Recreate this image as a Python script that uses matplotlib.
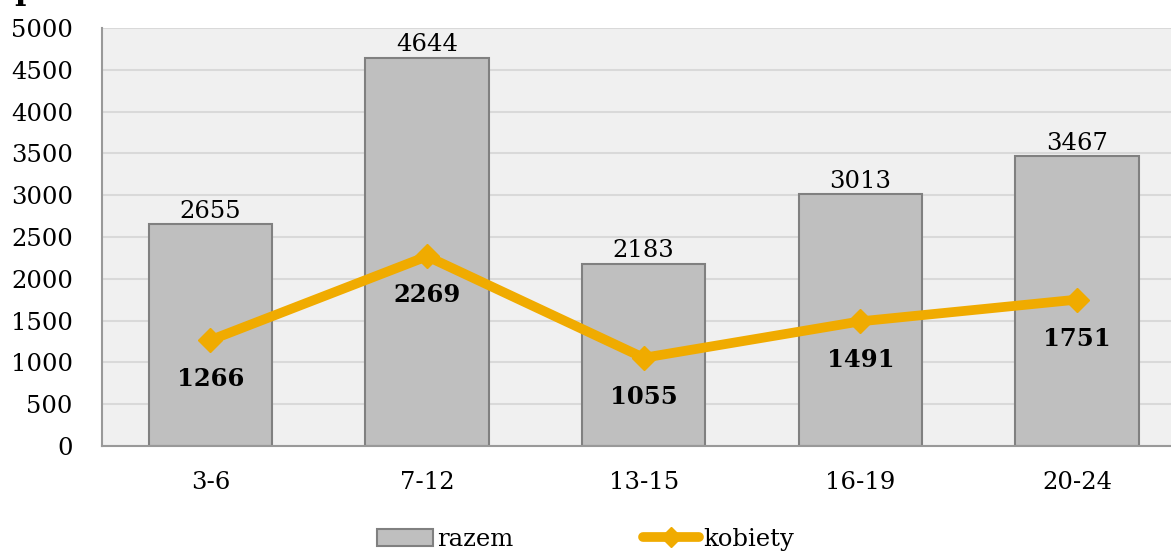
import matplotlib
matplotlib.use("Agg")
import matplotlib.pyplot as plt
from matplotlib.lines import Line2D
from matplotlib.patches import Patch

categories = ["3-6", "7-12", "13-15", "16-19", "20-24"]
razem = [2655, 4644, 2183, 3013, 3467]
kobiety = [1266, 2269, 1055, 1491, 1751]
yticks = list(range(0, 5001, 500))

plt.rcParams['font.family'] = ['DejaVu Serif']
FS = 17.5

fig = plt.figure(figsize=(11.71, 5.52), dpi=100)
ax = fig.add_axes([102/1171, 1-446/552, 1-102/1171, (446-28)/552])
ax.set_facecolor('#f0f0f0')

x = list(range(len(categories)))
ax.bar(x, razem, width=0.57, color='#bfbfbf', edgecolor='#808080', linewidth=1.5, zorder=2)
ax.plot(x, kobiety, color='#f0ab00', linewidth=7, marker='D', markersize=12,
        markeredgecolor='#f0ab00', zorder=3, solid_capstyle='round')

for xi, v in zip(x, razem):
    ax.annotate(str(v), (xi, v), xytext=(0, 1), textcoords='offset points',
                ha='center', va='bottom', fontsize=FS, color='#000000', zorder=4)
for xi, v in zip(x, kobiety):
    ax.annotate(str(v), (xi, v), xytext=(0, -28), textcoords='offset points',
                ha='center', va='center', fontsize=FS, fontweight='bold', color='#000000', zorder=4)

ax.set_ylim(0, 5000)
ax.set_xlim(-0.5, 4 + (1171-1077)/216.6)
ax.set_yticks(yticks)
ax.set_xticks(x)
ax.set_xticklabels(categories)
ax.tick_params(axis='both', length=0, labelsize=FS)
ax.tick_params(axis='y', pad=21)
ax.tick_params(axis='x', pad=18)
ax.yaxis.grid(True, color='#d9d9d9', linewidth=1.5, zorder=0)
ax.set_axisbelow(True)
for s in ['top', 'right']:
    ax.spines[s].set_visible(False)
for s in ['left', 'bottom']:
    ax.spines[s].set_color('#999999')
    ax.spines[s].set_linewidth(1.5)

fig.text(0.012, 1.018, 'p', fontsize=22, fontweight='bold', va='center', ha='left')

handles = [Patch(facecolor='#bfbfbf', edgecolor='#808080', linewidth=1.5),
           Line2D([0], [0], color='#f0ab00', linewidth=7, marker='D', markersize=10,
                  solid_capstyle='round')]
fig.legend(handles, ['razem', 'kobiety'], loc='lower center', bbox_to_anchor=(0.50, -0.02),
           ncol=2, frameon=False, fontsize=FS, handlelength=2.3, handletextpad=0.2,
           columnspacing=5.3, borderpad=0)

fig.savefig('out.png', dpi=100)
